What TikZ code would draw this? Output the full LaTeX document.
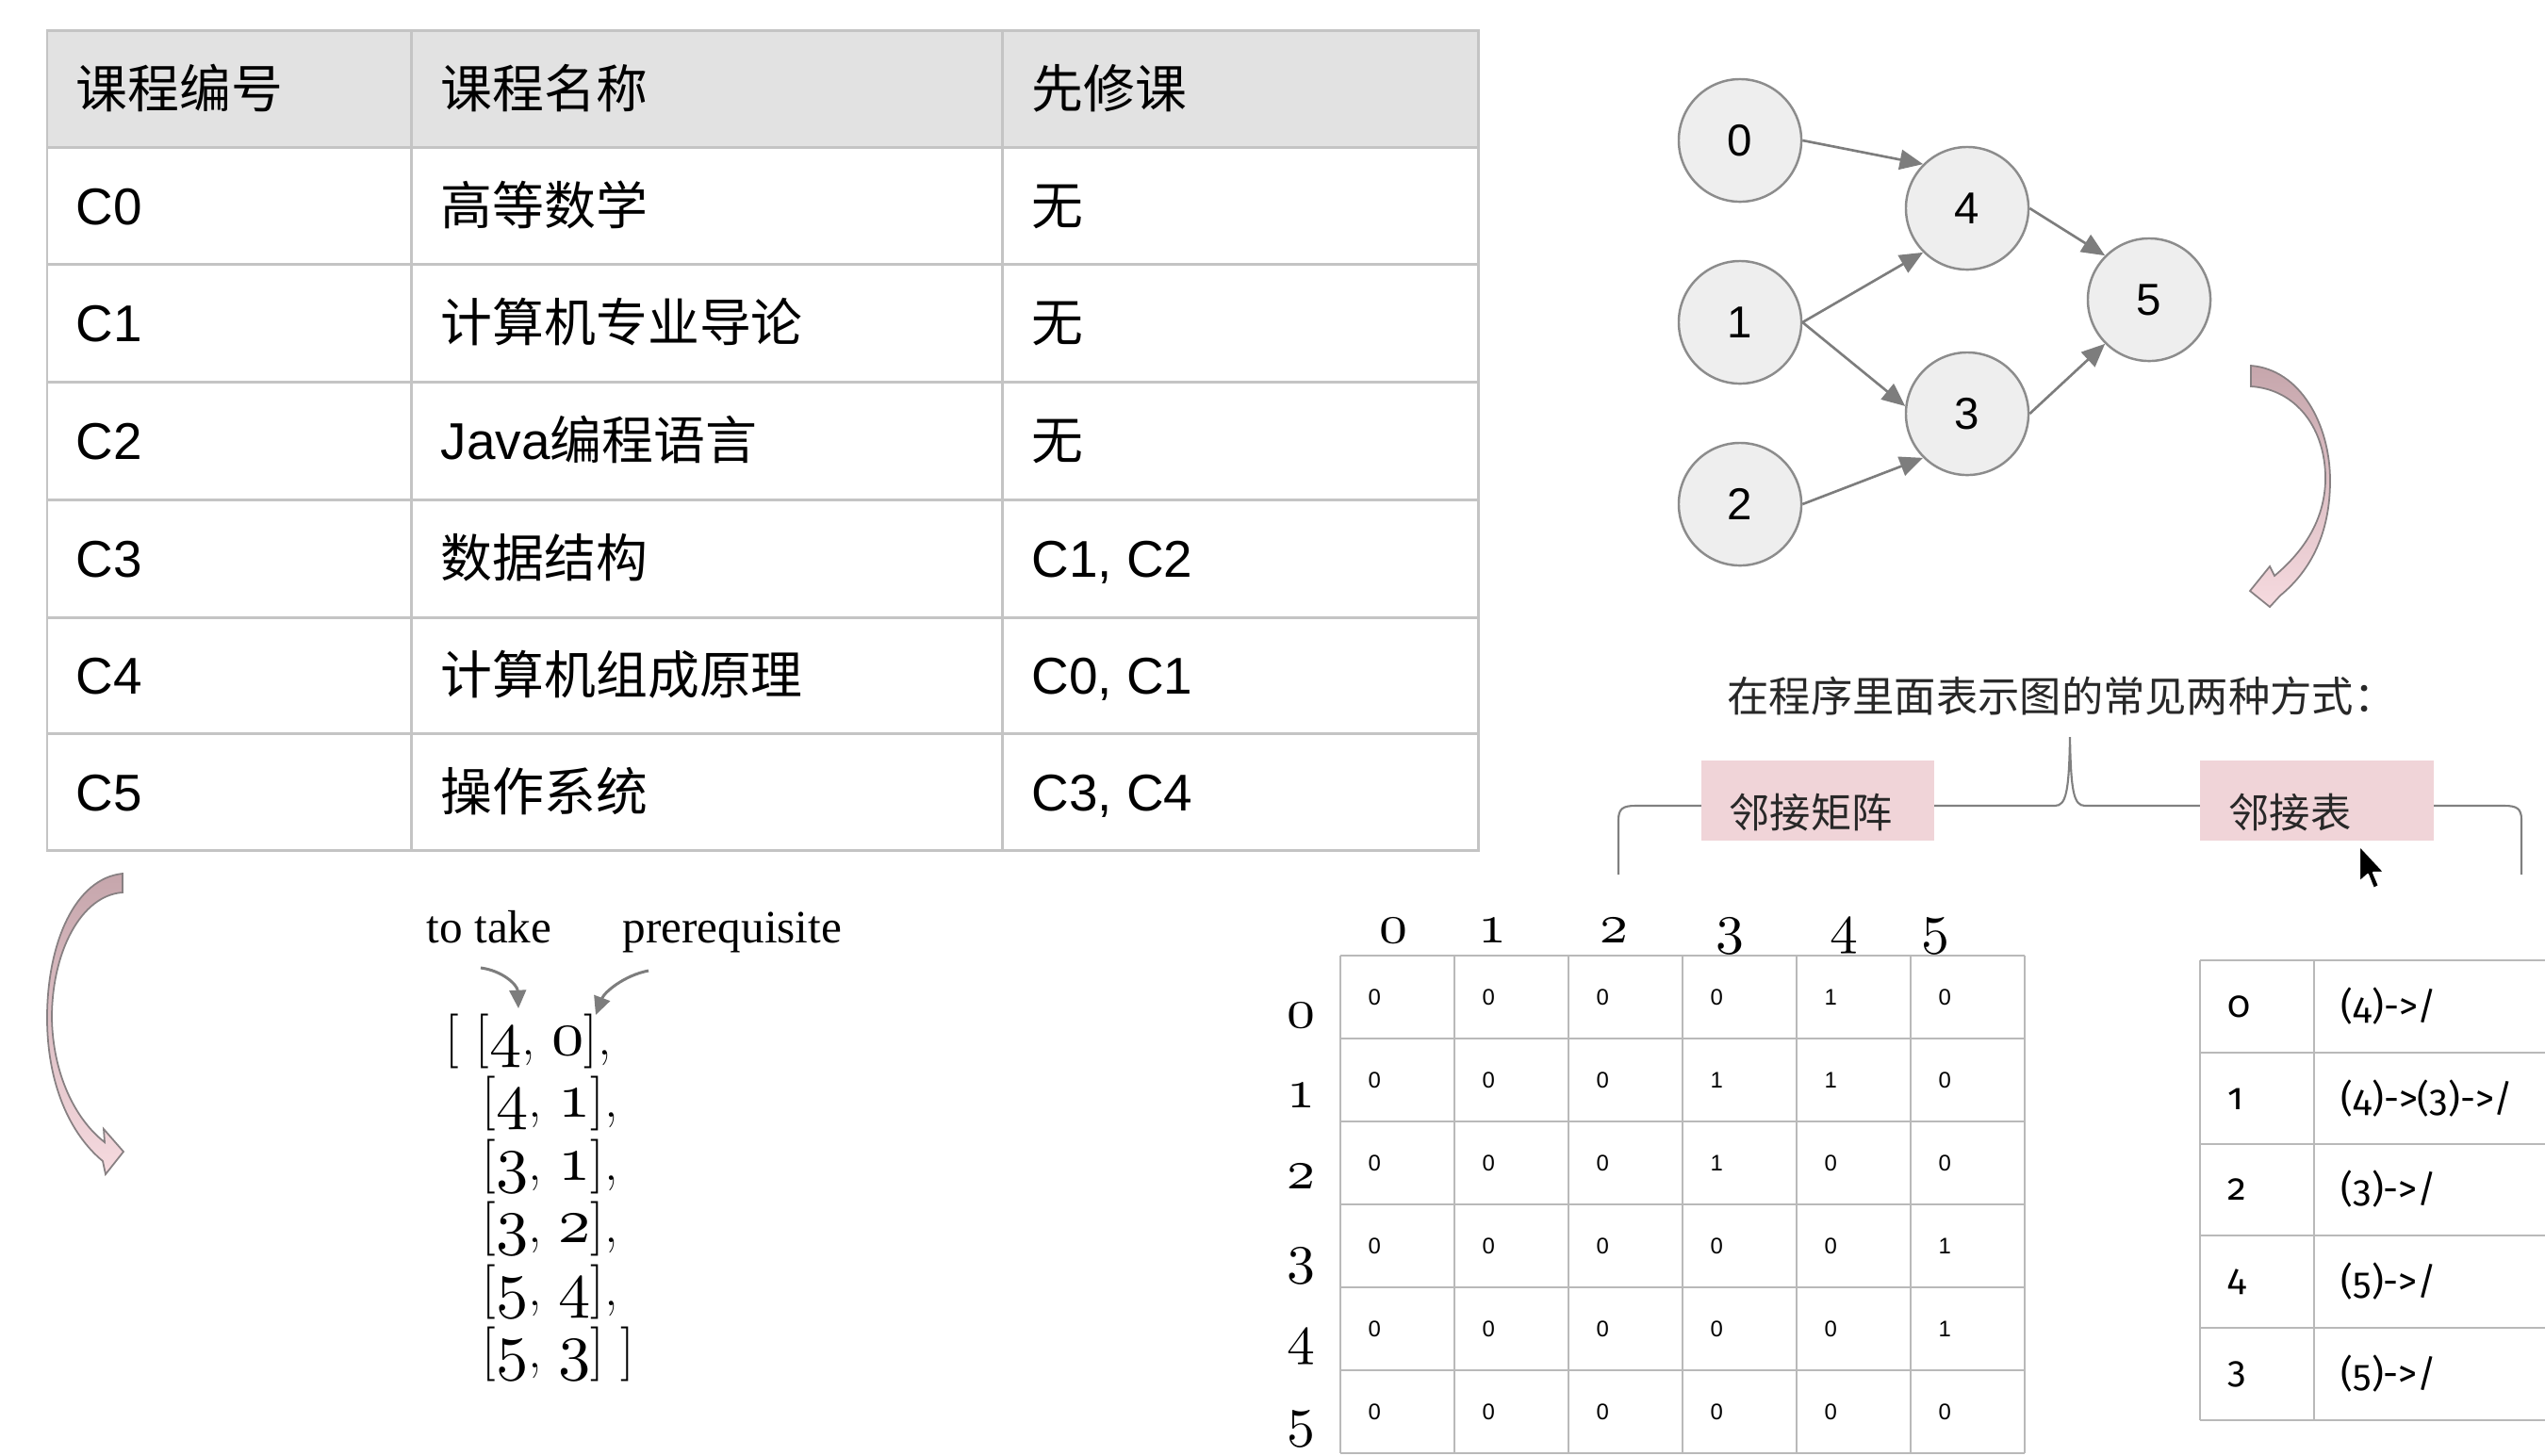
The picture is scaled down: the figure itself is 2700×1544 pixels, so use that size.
\documentclass[tikz,border=0pt]{standalone}
\usepackage{fontspec}
\usetikzlibrary{arrows.meta}
\newfontfamily\cjk{Noto Sans CJK SC}
\newfontfamily\arial{Liberation Sans}
\newfontfamily\serifen{Liberation Serif}
\newfontfamily\fira[Numbers=OldStyle]{Fira Sans}
\DeclareFontShape{OML}{cmm}{m}{it}{<->cmmi10}{}
\newcommand\od[1]{{\usefont{OML}{cmm}{m}{it}#1}}
\newcommand\odl[1]{{\fontsize{19.5}{20}\usefont{OML}{cmm}{m}{it}#1}}
\definecolor{headfill}{RGB}{226,226,226}
\definecolor{tabline}{RGB}{196,196,196}
\definecolor{nodefill}{RGB}{238,238,238}
\definecolor{nodegray}{RGB}{140,140,140}
\definecolor{edgegray}{RGB}{125,125,125}
\definecolor{pinkbox}{RGB}{240,212,216}
\definecolor{pinktop}{RGB}{198,166,172}
\definecolor{pinkbot}{RGB}{246,218,223}
\definecolor{pinkline}{RGB}{135,128,130}
\definecolor{txtdark}{RGB}{40,40,40}
\definecolor{gridgray}{RGB}{185,185,185}
\tikzset{
  tabtxt/.style={anchor=base west, inner sep=0pt, font=\fontsize{15.6}{18}\selectfont, text=black},
  gnode/.style={circle, draw=nodegray, fill=nodefill, line width=0.7pt, minimum size=1.3cm, inner sep=0pt, font=\arial\fontsize{13.5}{14}\selectfont},
  edge/.style={draw=edgegray, line width=0.75pt, -{Triangle[length=7pt,width=6pt]}},
  pinkarrow/.style={draw=pinkline, line width=0.5pt, top color=pinktop, bottom color=pinkbot},
  bracepath/.style={draw=gray, line width=0.6pt},
  pinkrect/.style={fill=pinkbox, draw=none, minimum width=2.47cm, minimum height=0.85cm, inner sep=0pt},
  cjklabel/.style={anchor=base west, inner sep=0pt, text=txtdark, font=\cjk\fontsize{12.3}{14}\selectfont},
  mlabel/.style={anchor=base, inner sep=0pt, font=\fontsize{17}{17}\selectfont},
  mcell/.style={anchor=west, inner sep=0pt, font=\arial\fontsize{6.8}{7}\selectfont},
  mgrid/.style={draw=gridgray, line width=0.6pt},
  listtxt/.style={anchor=base west, inner sep=0pt, font=\fontsize{16.5}{20}\selectfont},
  entxt/.style={anchor=base west, inner sep=0pt, font=\serifen\fontsize{14}{16}\selectfont},
  smallarrow/.style={draw=edgegray, line width=0.85pt, -{Triangle[length=5.5pt,width=5pt]}},
  adj/.style={anchor=west, inner sep=0pt, font=\fira\fontsize{11.3}{13}\selectfont},
}
\begin{document}
\begin{tikzpicture}[x=0.01cm,y=-0.01cm]
\useasboundingbox (0,0) rectangle (2700,1544);
\fill[white] (0,0) rectangle (2700,1544);

% ---------- course table ----------
\fill[headfill] (50,32) rectangle (1568,156);
\foreach \yy in {156,280,405,530,655,778}
  \draw[tabline, line width=0.85pt] (50,\yy) -- (1568,\yy);
\draw[tabline, line width=0.85pt] (436,32) -- (436,902);
\draw[tabline, line width=0.85pt] (1063,32) -- (1063,902);
\draw[tabline, line width=0.85pt] (50,32) rectangle (1568,902);

\node[tabtxt] (h1) at (80,114) {\cjk 课程编号};
\node[tabtxt] (h2) at (467,114) {\cjk 课程名称};
\node[tabtxt] (h3) at (1094,114) {\cjk 先修课};

\node[tabtxt] (c0a) at (80,238) {\arial C0};
\node[tabtxt] (c0b) at (467,238) {\cjk 高等数学};
\node[tabtxt] (c0c) at (1094,238) {\cjk 无};
\node[tabtxt] (c1a) at (80,362) {\arial C1};
\node[tabtxt] (c1b) at (467,362) {\cjk 计算机专业导论};
\node[tabtxt] (c1c) at (1094,362) {\cjk 无};
\node[tabtxt] (c2a) at (80,487) {\arial C2};
\node[tabtxt] (c2b) at (467,487) {{\arial Java}{\cjk 编程语言}};
\node[tabtxt] (c2c) at (1094,487) {\cjk 无};
\node[tabtxt] (c3a) at (80,612) {\arial C3};
\node[tabtxt] (c3b) at (467,612) {\cjk 数据结构};
\node[tabtxt] (c3c) at (1094,612) {\arial C1, C2};
\node[tabtxt] (c4a) at (80,736) {\arial C4};
\node[tabtxt] (c4b) at (467,736) {\cjk 计算机组成原理};
\node[tabtxt] (c4c) at (1094,736) {\arial C0, C1};
\node[tabtxt] (c5a) at (80,860) {\arial C5};
\node[tabtxt] (c5b) at (467,860) {\cjk 操作系统};
\node[tabtxt] (c5c) at (1094,860) {\arial C3, C4};

% ---------- graph ----------
\node[gnode] (n0) at (1846,149) {0};
\node[gnode] (n1) at (1846,342) {1};
\node[gnode] (n2) at (1846,535) {2};
\node[gnode] (n4) at (2087,221) {4};
\node[gnode] (n3) at (2087,439) {3};
\node[gnode] (n5) at (2280,318) {5};
\draw[edge] (n0.east) -- (n4.north west);
\draw[edge] (n1.east) -- (n4.south west);
\draw[edge] (n1.east) -- (n3.173);
\draw[edge] (n2.east) -- (n3.south west);
\draw[edge] (n4.east) -- (n5.north west);
\draw[edge] (n3.east) -- (n5.south west);

% ---------- pink curved arrows ----------
\path[pinkarrow] (2388,388) .. controls (2440,392) and (2472,450) .. (2472,510)
  .. controls (2472,565) and (2452,605) .. (2419,632) -- (2408,644) -- (2387,627) -- (2408,601) -- (2413,611)
  .. controls (2444,585) and (2466,552) .. (2467,510)
  .. controls (2468,455) and (2436,413) .. (2388,410) -- cycle;
\path[pinkarrow] (130,927) .. controls (80,932) and (50,1000) .. (50,1080)
  .. controls (50,1150) and (74,1203) .. (109,1232) -- (112,1246) -- (131,1222) -- (110,1198) -- (111,1212)
  .. controls (80,1188) and (56,1140) .. (55,1080)
  .. controls (55,1010) and (86,950) .. (130,947) -- cycle;

% ---------- heading and brace ----------
\node[cjklabel, anchor=base, font=\cjk\fontsize{12.6}{14}\selectfont] (head) at (2187,755) {在程序里面表示图的常见两种方式：};
\draw[bracepath] (1717,928) -- (1717,870) .. controls (1717,858) and (1722,855) .. (1735,855)
  -- (2180,855) .. controls (2192,855) and (2195,840) .. (2196,782)
  .. controls (2197,840) and (2200,855) .. (2212,855) -- (2657,855)
  .. controls (2670,855) and (2675,858) .. (2675,870) -- (2675,928);
\node[pinkrect] (boxm) at (1928.5,849.5) {};
\node[pinkrect] (boxl) at (2458,849.5) {};
\node[cjklabel] (lblm) at (1834,878) {邻接矩阵};
\node[cjklabel] (lbll) at (2364,878) {邻接表};

% cursor
\filldraw[fill=black, draw=white, line width=0.6pt, line join=round]
  (2503,897) -- (2503,936) -- (2512,928) -- (2518,943) -- (2524,940) -- (2518,926) -- (2530,926) -- cycle;

% ---------- edge list ----------
\node[entxt] (take) at (452,1000) {to take};
\node[entxt] (prereq) at (660,1000) {prerequisite};
\coordinate (a1s) at (510,1027);
\coordinate (a1e) at (550,1070);
\coordinate (a2s) at (688,1030);
\coordinate (a2e) at (632,1077);
\draw[smallarrow] (a1s) .. controls (533,1030) and (549,1045) .. (a1e);
\draw[smallarrow] (a2s) .. controls (662,1035) and (641,1053) .. (a2e);
\node[listtxt] (L1) at (472,1119) {[ [\odl{4},\hspace{0.3em}\odl{0}],};
\node[listtxt] (L2) at (511,1185) {[\odl{4},\hspace{0.3em}\odl{1}],};
\node[listtxt] (L3) at (511,1252) {[\odl{3},\hspace{0.3em}\odl{1}],};
\node[listtxt] (L4) at (511,1318) {[\odl{3},\hspace{0.3em}\odl{2}],};
\node[listtxt] (L5) at (511,1385) {[\odl{5},\hspace{0.3em}\odl{4}],};
\node[listtxt] (L6) at (511,1451) {[\odl{5},\hspace{0.3em}\odl{3}] ]};

% ---------- adjacency matrix ----------
\foreach \i in {0,...,6} {
  \draw[mgrid] ({1422+121*\i},1014) -- ({1422+121*\i},1542);
  \draw[mgrid] (1422,{1014+88*\i}) -- (2148,{1014+88*\i});
}
\foreach \cc/\xx in {0/1478,1/1583,2/1712,3/1835,4/1956,5/2053}
  \node[mlabel] (ch\cc) at (\xx,1000) {\od{\cc}};
\foreach \rr/\yy in {0/1090,1/1175,2/1261,3/1350,4/1436,5/1523}
  \node[mlabel] (rh\rr) at (1380,\yy) {\od{\rr}};
\foreach \rr/\va/\vb/\vc/\vd/\ve/\vf in {0/0/0/0/0/1/0, 1/0/0/0/1/1/0, 2/0/0/0/1/0/0, 3/0/0/0/0/0/1, 4/0/0/0/0/0/1, 5/0/0/0/0/0/0} {
  \foreach \cc/\vv in {0/\va,1/\vb,2/\vc,3/\vd,4/\ve,5/\vf}
    \node[mcell] (m\rr\cc) at ({1451+121*\cc},{1058+88*\rr}) {\vv};
}

% ---------- adjacency list ----------
\foreach \yy in {1019,1117,1214,1311,1409,1507}
  \draw[mgrid] (2334,\yy) -- (2700,\yy);
\draw[mgrid] (2334,1019) -- (2334,1507);
\draw[mgrid] (2455,1019) -- (2455,1507);
\node[adj] (k0) at (2363,1068) {0};
\node[adj] (v0) at (2483,1068) {(4)->/};
\node[adj] (k1) at (2363,1166) {1};
\node[adj] (v1) at (2483,1166) {(4)->(3)->/};
\node[adj] (k2) at (2363,1262) {2};
\node[adj] (v2) at (2483,1262) {(3)->/};
\node[adj] (k4) at (2363,1360) {4};
\node[adj] (v4) at (2483,1360) {(5)->/};
\node[adj] (k3) at (2363,1458) {3};
\node[adj] (v3) at (2483,1458) {(5)->/};
\end{tikzpicture}
\end{document}
